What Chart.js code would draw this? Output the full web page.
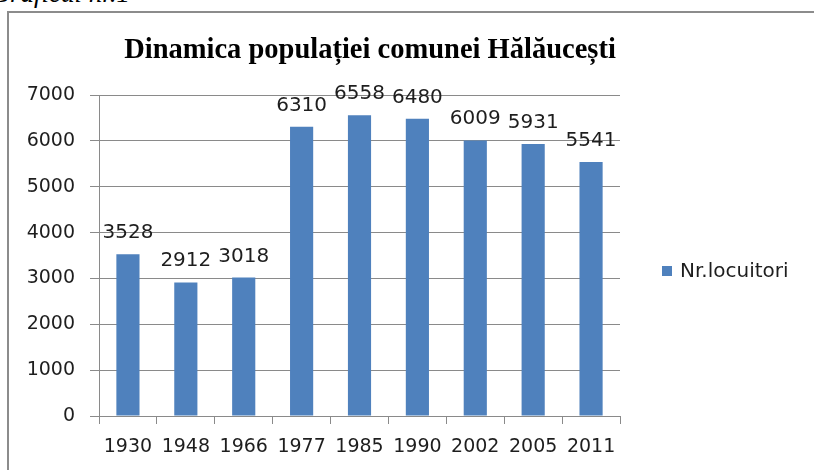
<!DOCTYPE html>
<html>
<head>
<meta charset="utf-8">
<script src="https://cdn.jsdelivr.net/npm/chart.js@4.4.1/dist/chart.umd.min.js"></script>
<style>
    body { margin: 0; background: #fff; }
    #wrap { position: relative; width: 814px; height: 470px; overflow: hidden; }
    #frame { position: absolute; left: 7px; top: 11px; width: 830px; height: 480px; border: 2px solid #8c8c8c; }
    #caption { position: absolute; right: 684px; top: -22px; font: italic 27px "Liberation Serif", serif; color: #000; white-space: nowrap; }
    canvas { position: absolute; left: 0; top: 0; }
</style>
</head>
<body>
<div id="wrap">
    <div id="frame"></div>
    <div id="caption">Graficul nr.1</div>
    <canvas id="popChart" width="814" height="470"></canvas>
</div>
<script>
    const years = ['1930', '1948', '1966', '1977', '1985', '1990', '2002', '2005', '2011'];
    const locuitori = [3528, 2912, 3018, 6310, 6558, 6480, 6009, 5931, 5541];
    const seriesName = 'Nr.locuitori';
    const chartTitle = 'Dinamica populației comunei Hălăucești';

    const barColor = '#4f81bd';
    const gridColor = '#8a8a8a';
    const textColor = '#1e1e1e';

    // value labels above each bar
    const barLabels = {
        id: 'barLabels',
        afterDatasetsDraw(chart) {
            const ctx = chart.ctx;
            const meta = chart.getDatasetMeta(0);
            ctx.save();
            ctx.font = '20px "DejaVu Sans"';
            ctx.fillStyle = textColor;
            ctx.textAlign = 'center';
            ctx.textBaseline = 'alphabetic';
            meta.data.forEach(function (bar, i) {
                ctx.fillText(String(locuitori[i]), bar.x, bar.y - 16);
            });
            ctx.restore();
        }
    };

    // title + legend placed where the office chart has them
    const titleAndLegend = {
        id: 'titleAndLegend',
        afterDraw(chart) {
            const ctx = chart.ctx;
            ctx.save();
            ctx.font = 'bold 28.5px "Liberation Serif"';
            ctx.fillStyle = '#000';
            ctx.textAlign = 'center';
            ctx.textBaseline = 'alphabetic';
            ctx.fillText(chartTitle, 370, 58);

            ctx.fillStyle = barColor;
            ctx.fillRect(662, 266, 10, 10);
            ctx.font = '20px "DejaVu Sans"';
            ctx.fillStyle = textColor;
            ctx.textAlign = 'left';
            ctx.textBaseline = 'middle';
            ctx.fillText(seriesName, 680, 272);
            ctx.restore();
        }
    };

    const ctx = document.getElementById('popChart').getContext('2d');

    new Chart(ctx, {
        type: 'bar',
        data: {
            labels: years,
            datasets: [{
                label: seriesName,
                data: locuitori,
                backgroundColor: barColor,
                barPercentage: 0.4,
                categoryPercentage: 1.0
            }]
        },
        options: {
            responsive: false,
            animation: false,
            layout: { padding: { left: 10, right: 194, top: 95, bottom: 0 } },
            plugins: {
                legend: { display: false },
                tooltip: { enabled: false },
                title: { display: false }
            },
            scales: {
                x: {
                    afterFit: function (scale) { scale.height = 54; },
                    grid: { display: true, drawOnChartArea: false, drawTicks: true, tickLength: 8, color: gridColor },
                    border: { display: true, color: gridColor },
                    ticks: { color: textColor, padding: 12, font: { family: '"DejaVu Sans"', size: 19 }, maxRotation: 0 }
                },
                y: {
                    min: 0,
                    max: 7000,
                    afterFit: function (scale) { scale.width = 89; },
                    grid: { color: gridColor, tickLength: 9 },
                    border: { display: true, color: gridColor },
                    ticks: {
                        stepSize: 1000,
                        color: textColor,
                        padding: 15,
                        font: { family: '"DejaVu Sans"', size: 19 },
                        callback: function (v) { return String(v); }
                    }
                }
            }
        },
        plugins: [barLabels, titleAndLegend]
    });
</script>
</body>
</html>
